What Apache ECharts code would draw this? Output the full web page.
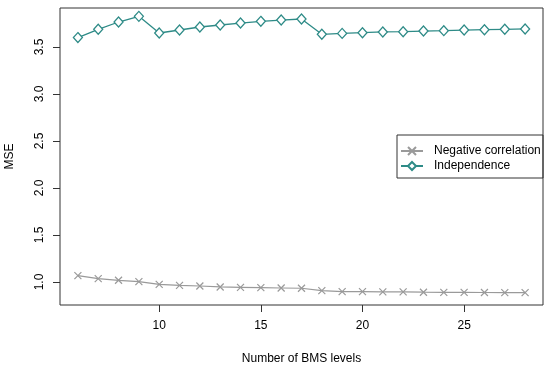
<!DOCTYPE html>
<html>
<head>
<meta charset="utf-8">
<script src="https://cdn.jsdelivr.net/npm/echarts@6/dist/echarts.min.js"></script>
<style>html,body{margin:0;padding:0;background:#fff}#c{width:550px;height:368px}</style>
</head>
<body>
<div id="c"></div>
<script>
const levels = [6,7,8,9,10,11,12,13,14,15,16,17,18,19,20,21,22,23,24,25,26,27,28];
const negativeCorrelation = [1.067,1.035,1.018,1.003,0.975,0.964,0.957,0.947,0.943,0.940,0.936,0.933,0.908,0.898,0.897,0.894,0.894,0.891,0.890,0.890,0.888,0.887,0.887];
const independence = [3.600,3.688,3.766,3.826,3.649,3.681,3.713,3.734,3.755,3.773,3.787,3.798,3.635,3.645,3.652,3.660,3.663,3.670,3.674,3.680,3.684,3.688,3.692];
const xTicks = [10,15,20,25];
const yTicks = [1.0,1.5,2.0,2.5,3.0,3.5];

const teal = '#2e8b87';
const gray = '#9a9a9a';
const font = 'Liberation Sans, Arial, Helvetica, sans-serif';

const chart = echarts.init(document.getElementById('c'));
chart.setOption({
  animation: false,
  backgroundColor: '#fff',
  textStyle: {fontFamily: font},
  grid: {left: 60, right: 7, top: 8, bottom: 63, show: true, borderColor: '#333', borderWidth: 1, backgroundColor: 'transparent', containLabel: false, outerBoundsMode: 'none'},
  xAxis: {
    type: 'value', min: 5.12, max: 28.88,
    name: 'Number of BMS levels', nameLocation: 'middle', nameGap: 48,
    nameTextStyle: {fontSize: 12, color: '#000', fontFamily: font},
    axisLine: {show: false},
    axisTick: {show: true, inside: false, length: 7, lineStyle: {color: '#333'}, customValues: xTicks},
    axisLabel: {fontSize: 12, color: '#000', margin: 15, fontFamily: font, customValues: xTicks, formatter: v => String(v)},
    splitLine: {show: false}
  },
  yAxis: {
    type: 'value', min: 0.755, max: 3.915,
    name: 'MSE', nameLocation: 'middle', nameGap: 44,
    nameTextStyle: {fontSize: 12, color: '#000', fontFamily: font},
    axisLine: {show: false},
    axisTick: {show: true, inside: false, length: 7, lineStyle: {color: '#333'}, customValues: yTicks},
    axisLabel: {fontSize: 12, color: '#000', margin: 14, rotate: 90, fontFamily: font, customValues: yTicks, formatter: v => v.toFixed(1)},
    splitLine: {show: false}
  },
  legend: {
    orient: 'vertical', left: 400, top: 145, padding: 0, itemGap: 3, itemWidth: 22, itemHeight: 10,
    textStyle: {fontSize: 12, color: '#000', fontFamily: font, padding: [0,0,0,6]},
    data: ['Negative correlation', 'Independence']
  },
  graphic: [{
    type: 'rect', shape: {x: 397, y: 135, width: 146, height: 43},
    style: {fill: 'transparent', stroke: '#333', lineWidth: 1}, z: 1
  }],
  series: [
    {
      name: 'Negative correlation', type: 'line',
      data: levels.map((x, i) => [x, negativeCorrelation[i]]),
      symbol: 'path://M0,0L10,10M10,0L0,10', symbolSize: 7, showAllSymbol: true,
      lineStyle: {color: gray, width: 1.2},
      itemStyle: {color: 'transparent', borderColor: gray, borderWidth: 1.2}
    },
    {
      name: 'Independence', type: 'line',
      data: levels.map((x, i) => [x, independence[i]]),
      symbol: 'diamond', symbolSize: [9, 10], showAllSymbol: true,
      lineStyle: {color: teal, width: 1.3},
      itemStyle: {color: '#fff', borderColor: teal, borderWidth: 1.3}
    }
  ]
});
</script>
</body>
</html>
